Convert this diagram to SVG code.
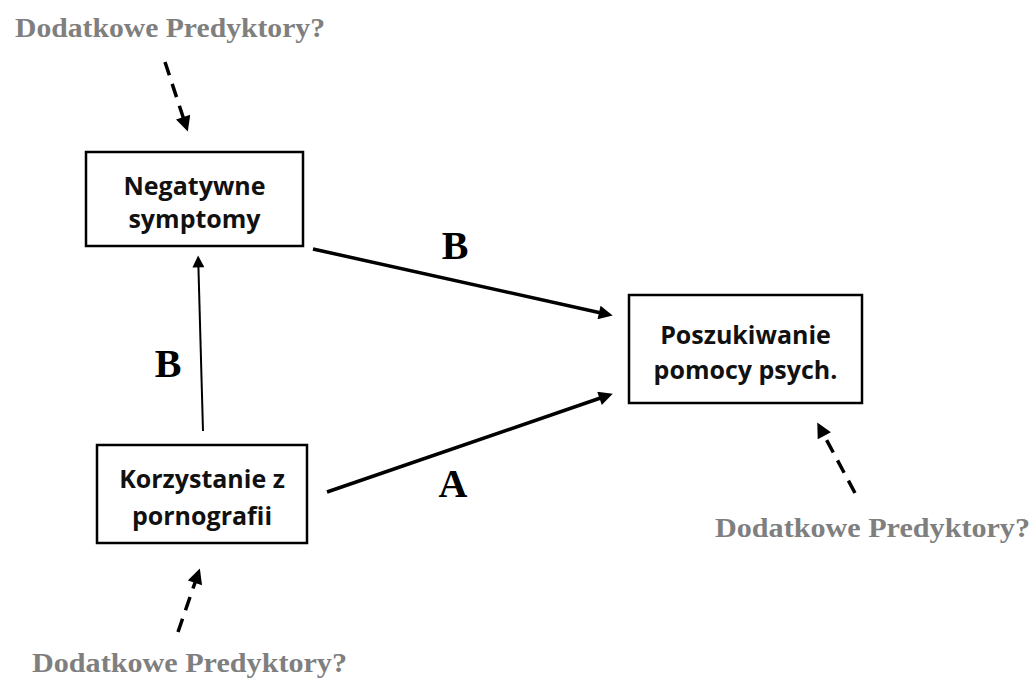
<svg xmlns="http://www.w3.org/2000/svg" width="1034" height="683" viewBox="0 0 1034 683">
<style>
.box{fill:#fff;stroke:#000;stroke-width:2.5}
.nt{font-family:"Open Sans","Liberation Sans",sans-serif;font-weight:bold;font-size:25px;fill:#111;text-anchor:middle}
.pred{font-family:"Liberation Serif",serif;font-weight:bold;font-size:27px;fill:#7f7f7f}
.lab{font-family:"Liberation Serif",serif;font-weight:bold;font-size:40px;fill:#000;text-anchor:middle}
.thick{stroke:#000;stroke-width:3.5;fill:none}
.thin{stroke:#000;stroke-width:2;fill:none}
.dash{stroke:#000;stroke-width:3.5;fill:none;stroke-dasharray:14 9}
</style>
<defs>
<marker id="ah" viewBox="0 0 10 10" refX="4" refY="5" markerUnits="userSpaceOnUse" markerWidth="18" markerHeight="14" orient="auto"><path d="M0,0 L10,5 L0,10 z" fill="#000"/></marker>
<marker id="ahs" viewBox="0 0 10 10" refX="4" refY="5" markerUnits="userSpaceOnUse" markerWidth="16" markerHeight="12" orient="auto"><path d="M0,0 L10,5 L0,10 z" fill="#000"/></marker>
<marker id="ahd" viewBox="0 0 10 10" refX="4" refY="5" markerUnits="userSpaceOnUse" markerWidth="17" markerHeight="15" orient="auto"><path d="M0,0 L10,5 L0,10 z" fill="#000"/></marker>
</defs>
<g id="connectors">
<line class="thick" x1="313" y1="249" x2="604.5" y2="313.7" marker-end="url(#ah)"/>
<line class="thick" x1="327" y1="492" x2="604.8" y2="396.5" marker-end="url(#ah)"/>
<line class="thin" x1="203" y1="431" x2="198.3" y2="262.6" marker-end="url(#ahs)"/>
<line class="dash" x1="165" y1="62" x2="185" y2="122.9" marker-end="url(#ahd)"/>
<line class="dash" x1="855" y1="493" x2="821.5" y2="430.5" marker-end="url(#ahd)"/>
<line class="dash" x1="178" y1="632" x2="196.9" y2="577.1" marker-end="url(#ahd)"/>
<text class="lab" x="455" y="259">B</text>
<text class="lab" x="168" y="377">B</text>
<text class="lab" x="453" y="497">A</text>
</g>
<g id="node-negatywne">
<rect class="box" x="86" y="152" width="217" height="94"/>
<text class="nt" x="194.5" y="195">Negatywne</text>
<text class="nt" x="194.5" y="228">symptomy</text>
</g>
<g id="node-korzystanie">
<rect class="box" x="97" y="445" width="210" height="98"/>
<text class="nt" x="202" y="488">Korzystanie z</text>
<text class="nt" x="202" y="525">pornografii</text>
</g>
<g id="node-poszukiwanie">
<rect class="box" x="629" y="295" width="233" height="108"/>
<text class="nt" x="745.5" y="344">Poszukiwanie</text>
<text class="nt" x="745.5" y="379">pomocy psych.</text>
</g>
<g id="pred-top"><text class="pred" x="15" y="37" textLength="310" lengthAdjust="spacingAndGlyphs">Dodatkowe Predyktory?</text></g>
<g id="pred-right"><text class="pred" x="715" y="537" textLength="315" lengthAdjust="spacingAndGlyphs">Dodatkowe Predyktory?</text></g>
<g id="pred-bottom"><text class="pred" x="32" y="672" textLength="315" lengthAdjust="spacingAndGlyphs">Dodatkowe Predyktory?</text></g>
</svg>
